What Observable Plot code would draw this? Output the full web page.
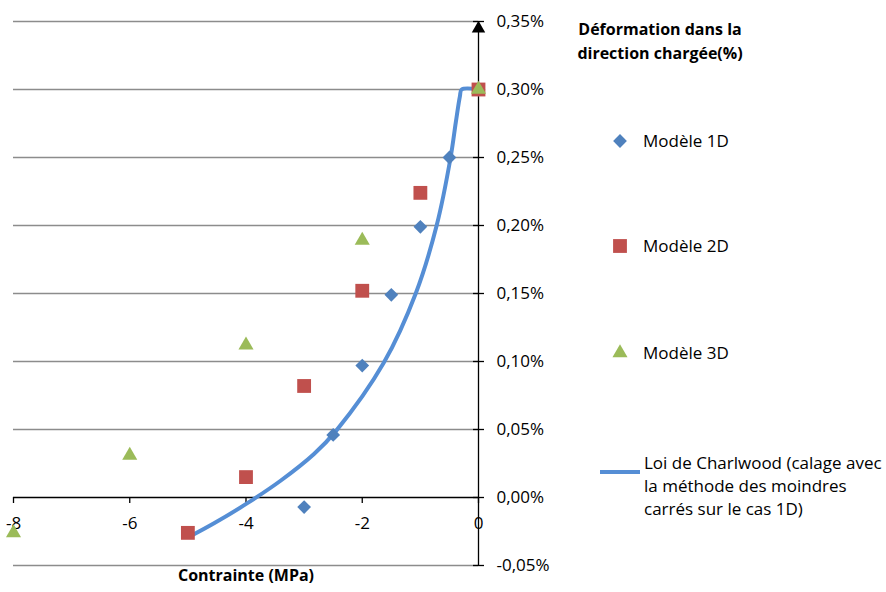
<!DOCTYPE html>
<html><head><meta charset="utf-8">
<script src="https://cdn.jsdelivr.net/npm/d3@7"></script>
<script src="https://cdn.jsdelivr.net/npm/@observablehq/plot@0.6"></script>
<style>
body{margin:0;background:#fff;font-family:"Open Sans",sans-serif;color:#000;}
#wrap{position:relative;width:886px;height:592px;overflow:hidden;}
.lg{position:absolute;font-size:17px;line-height:23px;white-space:nowrap;}
.ttl{position:absolute;font-weight:bold;font-size:16px;line-height:24px;text-align:center;white-space:nowrap;}
.sym{position:absolute;}
</style></head><body><div id="wrap"></div>
<script>
const xTicks = [-8, -6, -4, -2, 0];
const yTicks = [-0.05, 0, 0.05, 0.10, 0.15, 0.20, 0.25, 0.30, 0.35];

const m1x = [0, -0.5, -1, -1.5, -2, -2.5, -3];
const m1y = [0.300, 0.250, 0.199, 0.149, 0.097, 0.046, -0.007];
const m2x = [0, -1, -2, -3, -4, -5];
const m2y = [0.300, 0.224, 0.152, 0.082, 0.015, -0.026];
const m3x = [0, -2, -4, -6, -8];
const m3y = [0.300, 0.189, 0.112, 0.031, -0.026];
const cx = [-4.98, -4.55, -3.97, -3.40, -2.83, -2.45, -1.63, -1.08, -0.72, -0.48, -0.39, -0.32, -0.29, 0];
const cy = [-0.029, -0.019, -0.004, 0.0125, 0.032, 0.049, 0.099, 0.150, 0.200, 0.250, 0.276, 0.295, 0.300, 0.300];

const seriesNames = ["Modèle 1D", "Modèle 2D", "Modèle 3D", "Loi de Charlwood (calage avec la méthode des moindres carrés sur le cas 1D)"];
const xTitle = "Contrainte (MPa)";
const yTitle = ["Déformation dans la", "direction chargée(%)"];

const c1 = "#4f81bd", c2 = "#c0504d", c3 = "#9bbb59", cl = "#558ed5";

const pts = (xs, ys) => xs.map((x, i) => ({x, y: ys[i]}));
const d1 = pts(m1x, m1y), d2 = pts(m2x, m2y), d3p = pts(m3x, m3y), dc = pts(cx, cy);
const fmtY = d => d.toFixed(2).replace(".", ",") + "%";
const yMax = d3.max(yTicks);
const R = {diamond: 6.2, square: 7.8, triangle: 5.6};

const chart = Plot.plot({
  width: 886, height: 592,
  marginLeft: 13, marginRight: 408, marginTop: 21, marginBottom: 27,
  x: {domain: [d3.min(xTicks), d3.max(xTicks)], axis: null},
  y: {domain: [d3.min(yTicks), yMax], axis: null},
  style: {fontFamily: "'Open Sans', sans-serif", fontSize: "17px", color: "#000", background: "#fff"},
  marks: [
    Plot.ruleY(yTicks.filter(d => d !== 0), {y: d => d, stroke: "#8c8c8c", strokeWidth: 1.3}),
    Plot.ruleY([0], {stroke: "#000", strokeWidth: 1.3}),
    Plot.ruleX([0], {stroke: "#000", strokeWidth: 1.3}),
    Plot.ruleX(xTicks, {x: d => d, y1: 0, y2: 0, insetBottom: -6, stroke: "#000", strokeWidth: 1.3}),
    Plot.ruleY(yTicks, {y: d => d, x1: 0, x2: 0, insetLeft: -5, insetRight: -6, stroke: "#000", strokeWidth: 1.3}),
    Plot.dot([{x: 0, y: yMax}], {x: "x", y: "y", symbol: "triangle", r: 5, fill: "#000", stroke: "none", dy: 7}),
    Plot.text(xTicks, {x: d => d, y: 0, text: d => String(d), dy: 26, fill: "#000"}),
    Plot.text(yTicks, {x: 0, y: d => d, text: fmtY, dx: 18, textAnchor: "start", fill: "#000"}),
    Plot.text([xTitle], {frameAnchor: "bottom", dy: 15, text: d => d, fontWeight: "bold", fontSize: 16, fill: "#000"}),
    Plot.line(dc, {x: "x", y: "y", stroke: cl, strokeWidth: 4, curve: "catmull-rom"}),
    Plot.dot(d1, {x: "x", y: "y", symbol: "diamond2", r: R.diamond, fill: c1, stroke: "none"}),
    Plot.dot(d2, {x: "x", y: "y", symbol: "square", r: R.square, fill: c2, stroke: "none"}),
    Plot.dot(d3p, {x: "x", y: "y", symbol: "triangle", r: R.triangle, fill: c3, stroke: "none"})
  ]
});

const wrap = document.getElementById("wrap");
wrap.appendChild(chart);

function add(html, cls, style) {
  const el = document.createElement("div");
  el.className = cls;
  el.innerHTML = html;
  Object.assign(el.style, style);
  wrap.appendChild(el);
  return el;
}
add(yTitle.join("<br>"), "ttl", {left: "560px", width: "200px", top: "17px"});

function symSvg(type, color) {
  const s = d3.create("svg").attr("width", 20).attr("height", 20);
  const sym = {diamond: d3.symbolDiamond2, square: d3.symbolSquare, triangle: d3.symbolTriangle}[type];
  const size = Math.PI * R[type] * R[type];
  s.append("path").attr("transform", "translate(10,10)").attr("d", d3.symbol(sym, size)()).attr("fill", color);
  return s.node().outerHTML;
}
const rows = [[141, "diamond", c1], [246, "square", c2], [353, "triangle", c3]];
rows.forEach(([y, t, c], i) => {
  add(symSvg(t, c), "sym", {left: "610px", top: (y - 10) + "px", width: "20px", height: "20px"});
  add(seriesNames[i], "lg", {left: "643px", top: (y - 12) + "px"});
});
add(`<svg width="42" height="6"><line x1="1" y1="3" x2="41" y2="3" stroke="${cl}" stroke-width="4"/></svg>`, "sym", {left: "599px", top: "458px"});
add("Loi de Charlwood (calage avec<br>la méthode des moindres<br>carrés sur le cas 1D)", "lg", {left: "644px", top: "451px"});
</script>
</body></html>
